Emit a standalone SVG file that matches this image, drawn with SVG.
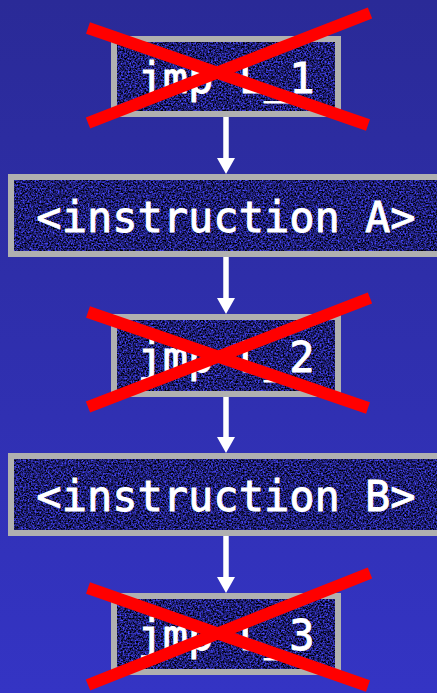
<svg xmlns="http://www.w3.org/2000/svg" width="437" height="693" viewBox="0 0 437 693">
  <defs>
    <linearGradient id="bg" x1="0" y1="0" x2="0" y2="1">
      <stop offset="0" stop-color="#2A2A97"/>
      <stop offset="1" stop-color="#3434C4"/>
    </linearGradient>
    <!-- grainy navy fill for the box interiors -->
    <filter id="grain" x="0" y="0" width="100%" height="100%" color-interpolation-filters="sRGB">
      <feTurbulence type="fractalNoise" baseFrequency="0.6" numOctaves="2" seed="7" result="n"/>
      <feColorMatrix in="n" type="matrix" values="0.6 0 0 0 -0.18  0.6 0 0 0 -0.18  2.1 0 0 0 -0.6  0 0 0 0 1"/>
    </filter>
    <marker id="head" markerUnits="userSpaceOnUse" markerWidth="16" markerHeight="18" refX="8" refY="9" orient="auto" viewBox="0 0 16 18">
      <path d="M0,0 L16,9 L0,18 z" fill="#FFFFFF"/>
    </marker>
  </defs>
  <style>
    .frame { fill: #B0B0B0; }
    .inner { fill: #1E1E66; filter: url(#grain); }
    .lbl { font-family: "DejaVu Sans Mono", "Liberation Mono", monospace; font-size: 42px; fill: #FFFFFF; stroke: #FFFFFF; stroke-width: 0.9; text-anchor: middle; }
    .cross { stroke: #FF0000; stroke-width: 12; stroke-linecap: butt; fill: none; }
    .arrow { stroke: #FFFFFF; stroke-width: 5.5; marker-end: url(#head); }
  </style>

  <rect x="0" y="0" width="437" height="693" fill="url(#bg)"/>

  <g id="connectors">
    <line class="arrow" x1="226" y1="117" x2="226" y2="166"/>
    <line class="arrow" x1="226" y1="257" x2="226" y2="306"/>
    <line class="arrow" x1="226" y1="397" x2="226" y2="445"/>
    <line class="arrow" x1="226" y1="536" x2="226" y2="585"/>
  </g>

  <g id="jmp1">
    <rect class="frame" x="111" y="36" width="230" height="81"/>
    <rect class="inner" x="117" y="42" width="218" height="69"/>
    <text class="lbl" x="226" y="93">jmp L_1</text>
    <line class="cross" x1="88" y1="28" x2="368" y2="125"/>
    <line class="cross" x1="88" y1="123" x2="370" y2="13"/>
  </g>

  <g id="instrA">
    <rect class="frame" x="8" y="174" width="436" height="83"/>
    <rect class="inner" x="14" y="180" width="424" height="71"/>
    <text class="lbl" x="226" y="232">&lt;instruction A&gt;</text>
  </g>

  <g id="jmp2">
    <rect class="frame" x="111" y="314" width="230" height="83"/>
    <rect class="inner" x="117" y="320" width="218" height="71"/>
    <text class="lbl" x="226" y="372">jmp L_2</text>
    <line class="cross" x1="88" y1="312" x2="368" y2="408"/>
    <line class="cross" x1="88" y1="407" x2="370" y2="298"/>
  </g>

  <g id="instrB">
    <rect class="frame" x="8" y="453" width="436" height="83"/>
    <rect class="inner" x="14" y="459" width="424" height="71"/>
    <text class="lbl" x="226" y="511">&lt;instruction B&gt;</text>
  </g>

  <g id="jmp3">
    <rect class="frame" x="111" y="593" width="230" height="82"/>
    <rect class="inner" x="117" y="599" width="218" height="70"/>
    <text class="lbl" x="226" y="650">jmp L_3</text>
    <line class="cross" x1="88" y1="588" x2="368" y2="686"/>
    <line class="cross" x1="88" y1="685" x2="370" y2="573"/>
  </g>
</svg>
